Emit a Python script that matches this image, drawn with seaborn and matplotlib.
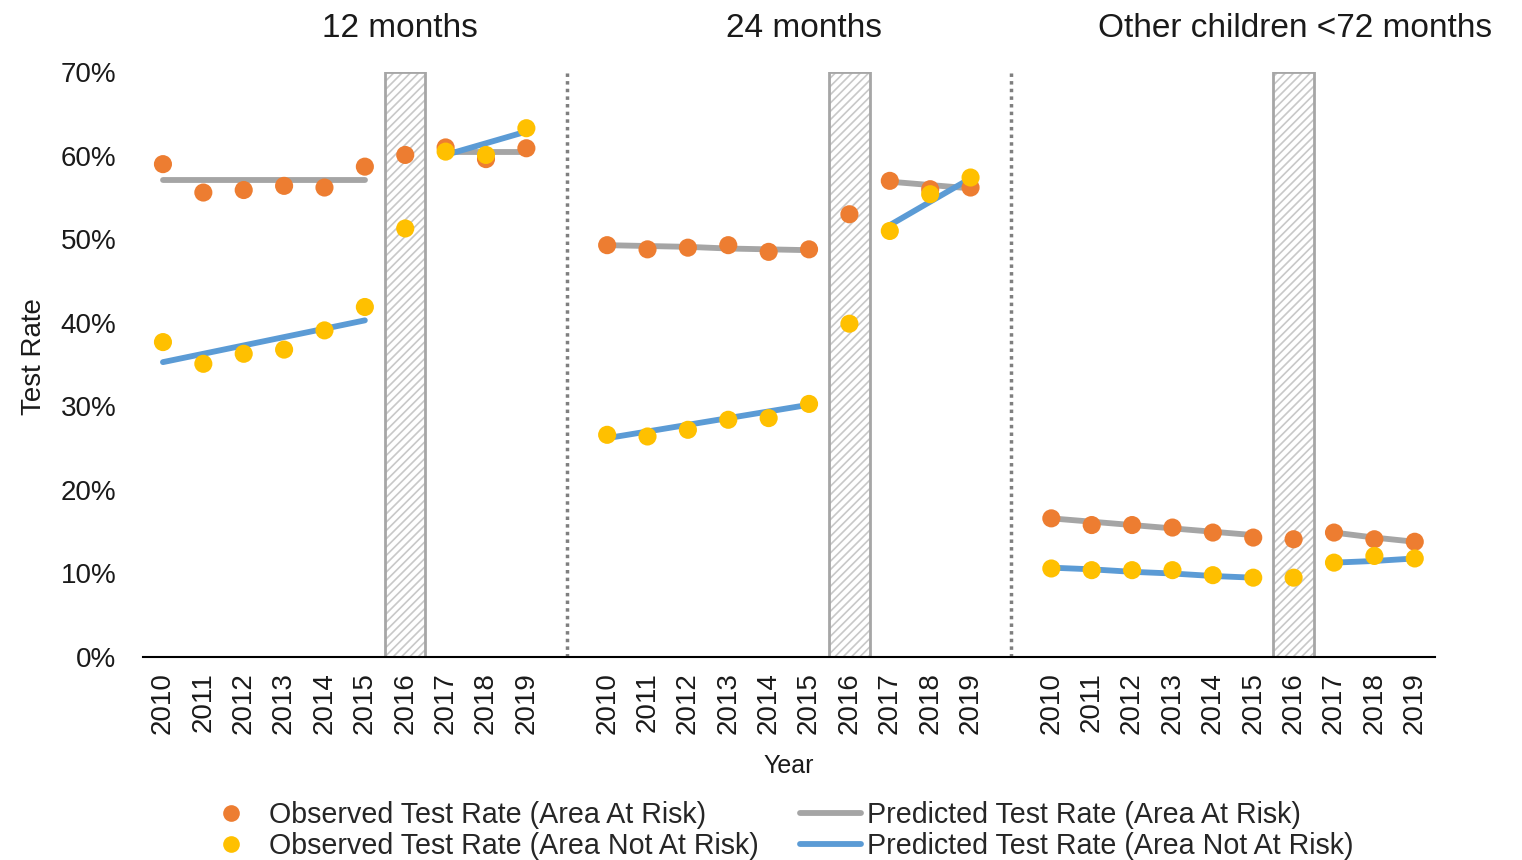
import pandas as pd
import seaborn as sns
import matplotlib.pyplot as plt
from matplotlib.lines import Line2D

# --- data (percent) ---
years = [2010, 2011, 2012, 2013, 2014, 2015, 2016, 2017, 2018, 2019]
pre_years = [2010, 2011, 2012, 2013, 2014, 2015]
post_years = [2017, 2018, 2019]
groups = ["12 months", "24 months", "Other children <72 months"]

obs_risk_12 = [59.0, 55.6, 55.9, 56.4, 56.2, 58.7, 60.1, 61.0, 59.6, 60.9]
obs_norisk_12 = [37.7, 35.1, 36.3, 36.8, 39.1, 41.9, 51.3, 60.5, 60.1, 63.3]
obs_risk_24 = [49.3, 48.8, 49.0, 49.3, 48.5, 48.8, 53.0, 57.0, 56.0, 56.2]
obs_norisk_24 = [26.6, 26.4, 27.2, 28.4, 28.6, 30.3, 39.9, 51.0, 55.4, 57.4]
obs_risk_oth = [16.6, 15.8, 15.8, 15.5, 14.9, 14.3, 14.1, 14.9, 14.1, 13.8]
obs_norisk_oth = [10.6, 10.4, 10.4, 10.4, 9.8, 9.5, 9.5, 11.3, 12.1, 11.8]

pred_risk_pre_12 = [57.1, 57.1, 57.1, 57.1, 57.1, 57.1]
pred_norisk_pre_12 = [35.3, 36.3, 37.3, 38.3, 39.3, 40.3]
pred_risk_post_12 = [60.5, 60.5, 60.5]
pred_norisk_post_12 = [60.1, 61.5, 62.9]
pred_risk_pre_24 = [49.3, 49.2, 49.1, 48.9, 48.8, 48.7]
pred_norisk_pre_24 = [26.2, 27.0, 27.8, 28.6, 29.4, 30.2]
pred_risk_post_24 = [56.9, 56.5, 56.1]
pred_norisk_post_24 = [51.7, 54.5, 57.3]
pred_risk_pre_oth = [16.6, 16.2, 15.8, 15.4, 15.0, 14.6]
pred_norisk_pre_oth = [10.7, 10.5, 10.2, 10.0, 9.7, 9.5]
pred_risk_post_oth = [14.9, 14.3, 13.8]
pred_norisk_post_oth = [11.3, 11.5, 11.8]

OBS_R = "Observed Test Rate (Area At Risk)"
OBS_N = "Observed Test Rate (Area Not At Risk)"
PRED_R = "Predicted Test Rate (Area At Risk)"
PRED_N = "Predicted Test Rate (Area Not At Risk)"

colors = {OBS_R: "#ED7D31", OBS_N: "#FFC000", PRED_R: "#A5A5A5", PRED_N: "#5B9BD5"}

obs_data = {
    groups[0]: (obs_risk_12, obs_norisk_12),
    groups[1]: (obs_risk_24, obs_norisk_24),
    groups[2]: (obs_risk_oth, obs_norisk_oth),
}
pred_data = {
    groups[0]: (pred_risk_pre_12, pred_norisk_pre_12, pred_risk_post_12, pred_norisk_post_12),
    groups[1]: (pred_risk_pre_24, pred_norisk_pre_24, pred_risk_post_24, pred_norisk_post_24),
    groups[2]: (pred_risk_pre_oth, pred_norisk_pre_oth, pred_risk_post_oth, pred_norisk_post_oth),
}

# każda grupa zajmuje 10 miejsc + 1 puste miejsce na separator
slot = {}
for g_i, g in enumerate(groups):
    for y_i, y in enumerate(years):
        slot[(g, y)] = g_i * 11 + y_i

obs_rows = []
for series_i, series in enumerate([OBS_R, OBS_N]):
    for g in groups:
        for y, v in zip(years, obs_data[g][series_i]):
            obs_rows.append({"series": series, "group": g, "year": y, "pos": slot[(g, y)], "rate": v})
obs_df = pd.DataFrame(obs_rows)

pred_rows = []
for g in groups:
    r_pre, n_pre, r_post, n_post = pred_data[g]
    for series, seg, yrs, vals in [
        (PRED_R, "pre", pre_years, r_pre), (PRED_N, "pre", pre_years, n_pre),
        (PRED_R, "post", post_years, r_post), (PRED_N, "post", post_years, n_post),
    ]:
        for y, v in zip(yrs, vals):
            pred_rows.append({"series": series, "seg": f"{g}-{seg}-{series}",
                              "pos": slot[(g, y)], "rate": v})
pred_df = pd.DataFrame(pred_rows)

# --- wykres ---
sns.set_style("white")
plt.rcParams["font.family"] = ["Liberation Sans", "DejaVu Sans"]
plt.rcParams["hatch.linewidth"] = 1.2

fig = plt.figure(figsize=(15.22, 8.6), dpi=100)
ax = fig.add_axes([0.0938, 0.236, 0.8490, 0.680])

# 2016 – pasy kreskowane
for g in groups:
    p = slot[(g, 2016)]
    ax.axvspan(p - 0.5, p + 0.5, facecolor="white", edgecolor="#c8c8c8",
               hatch="////", linewidth=0, zorder=0)
    ax.axvspan(p - 0.5, p + 0.5, fill=False, edgecolor="#a6a6a6", linewidth=2, zorder=1)

# separatory grup
for g_i in range(1, len(groups)):
    ax.axvline(g_i * 11 - 1, color="#7f7f7f", linewidth=2.5, linestyle=(0, (1, 1.2)), zorder=1)

sns.lineplot(data=pred_df, x="pos", y="rate", hue="series", units="seg", estimator=None,
             palette=colors, linewidth=4.2, legend=False, ax=ax, zorder=2)
sns.scatterplot(data=obs_df, x="pos", y="rate", hue="series", palette=colors,
                s=170, linewidth=0, legend=False, ax=ax, zorder=3)

ax.set_xlim(-0.5, 31.5)
ax.set_ylim(0, 70)
ax.set_yticks(range(0, 71, 10))
ax.set_yticklabels([f"{v}%" for v in range(0, 71, 10)], fontsize=20, color="#1a1a1a")
xt = [slot[(g, y)] for g in groups for y in years]
ax.set_xticks(xt)
ax.set_xticklabels([str(y) for g in groups for y in years], rotation=90, fontsize=20, color="#1a1a1a")
ax.tick_params(axis="y", length=0, pad=19)
ax.tick_params(axis="x", length=0, pad=11)

for s in ["left", "top", "right"]:
    ax.spines[s].set_visible(False)
ax.spines["bottom"].set_color("black")
ax.spines["bottom"].set_linewidth(1.5)

ax.set_xlabel("Year", fontsize=18, labelpad=14, color="#1a1a1a")
ax.set_ylabel("Test Rate", fontsize=20, color="#1a1a1a")
ax.yaxis.set_label_coords(-0.074, 0.513)

# tytuły grup
for g, fx in zip(groups, [0.2628, 0.5283, 0.8509]):
    fig.text(fx, 0.967, g, ha="center", va="center", fontsize=24, color="#1a1a1a")

# legendy
h1 = [Line2D([], [], linestyle="none", marker="o", markersize=12, markeredgewidth=0,
             color=colors[k]) for k in [OBS_R, OBS_N]]
leg1 = fig.legend(h1, [OBS_R, OBS_N], loc="center left", bbox_to_anchor=(0.1426, 0.034),
                  frameon=False, fontsize=20.6, handlelength=1.0, handletextpad=0.8,
                  labelspacing=0.1, borderpad=0, borderaxespad=0)
h2 = [Line2D([], [], color=colors[k], linewidth=4.2) for k in [PRED_R, PRED_N]]
leg2 = fig.legend(h2, [PRED_R, PRED_N], loc="center left", bbox_to_anchor=(0.5256, 0.034),
                  frameon=False, fontsize=20.6, handlelength=2.15, handletextpad=0.2,
                  labelspacing=0.1, borderpad=0, borderaxespad=0)

fig.savefig("out.png", dpi=100)
